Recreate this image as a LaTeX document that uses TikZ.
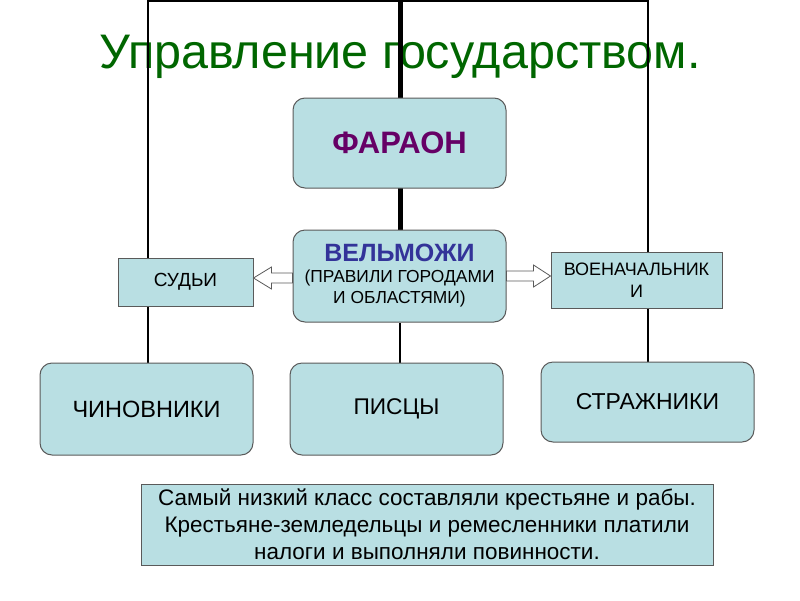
\documentclass[tikz,border=0pt]{standalone}
\usepackage{fontspec}
\setmainfont{Liberation Sans}
\usetikzlibrary{calc}
\definecolor{boxfill}{RGB}{185,223,227}
\definecolor{boxline}{RGB}{90,90,90}
\definecolor{titlegreen}{RGB}{0,102,0}
\definecolor{pharpurple}{RGB}{102,0,102}
\definecolor{nobleblue}{RGB}{51,51,153}
\pgfdeclarelayer{bg}
\pgfdeclarelayer{lines}
\pgfsetlayers{bg,lines,main}
\tikzset{
  rbox/.style={draw=boxline, line width=1pt, fill=boxfill, rounded corners=12pt, align=center, inner sep=2pt},
  sbox/.style={draw=boxline, line width=1pt, fill=boxfill, align=center, inner sep=2pt},
  thinline/.style={draw=black, line width=2pt},
  thickline/.style={draw=black, line width=5pt},
  blockarrow/.style={draw=boxline, line width=0.8pt, fill=white, line join=miter}
}
\begin{document}
\begin{tikzpicture}[x=1pt,y=-1pt]
\useasboundingbox (0,0) rectangle (800,600);
% title
\begin{pgfonlayer}{bg}
\node[anchor=base, text=titlegreen, font=\fontsize{48.5}{52}\selectfont, inner sep=0] (title) at (400,68) {Управление государством.};
\end{pgfonlayer}
% frame coordinates
\coordinate (tl) at (148,1);
\coordinate (tr) at (648,1);
\coordinate (tc) at (400,-3);
% nodes
\node[rbox, minimum width=213, minimum height=90, text=pharpurple, font=\bfseries\fontsize{31}{34}\selectfont] (faraon) at (399.5,143) {ФАРАОН};
\node[rbox, minimum width=213, minimum height=92, font=\fontsize{17.4}{21}\selectfont] (velm) at (399.5,276) {{\color{nobleblue}\bfseries\fontsize{25}{27}\selectfont ВЕЛЬМОЖИ}\\(ПРАВИЛИ ГОРОДАМИ\\И ОБЛАСТЯМИ)};
\node[sbox, minimum width=135, minimum height=48, font=\fontsize{19}{22}\selectfont] (sudi) at (185.5,282) {СУДЬИ};
\node[sbox, minimum width=171, minimum height=56, font=\fontsize{18}{22}\selectfont] (voen) at (636.5,280) {ВОЕНАЧАЛЬНИК\\И};
\node[rbox, minimum width=213, minimum height=92, font=\fontsize{23.5}{26}\selectfont] (chin) at (146.5,409) {ЧИНОВНИКИ};
\node[rbox, minimum width=213, minimum height=92, font=\fontsize{22.7}{26}\selectfont] (pis) at (396.5,409) {ПИСЦЫ};
\node[rbox, minimum width=213, minimum height=80, font=\fontsize{23}{26}\selectfont] (strazh) at (647.5,402) {СТРАЖНИКИ};
\node[sbox, minimum width=572, minimum height=81, font=\fontsize{22.5}{27}\selectfont] (bottom) at (427,524.5) {Самый низкий класс составляли крестьяне и рабы.\\Крестьяне-земледельцы и ремесленники платили\\налоги и выполняли повинности.};
% connectors behind boxes
\begin{pgfonlayer}{lines}
\draw[thinline, line join=miter] (chin.north -| tl) -- (tl) -- (tr) -- (strazh.north -| tr);
\draw[thickline] (tc) -- (velm.north -| tc);
\draw[thinline] (velm.south -| tc) -- (pis.north -| tc);
\end{pgfonlayer}
% block arrows
\draw[blockarrow, shift={(velm.west)}] (0,-3) -- (-21,-3) -- (-21,-9) -- (-39,2) -- (-21,13) -- (-21,7) -- (0,7) -- cycle;
\draw[blockarrow, shift={(velm.east)}] (0,-5) -- (27,-5) -- (27,-11) -- (44,0) -- (27,11) -- (27,5) -- (0,5) -- cycle;
\end{tikzpicture}
\end{document}
